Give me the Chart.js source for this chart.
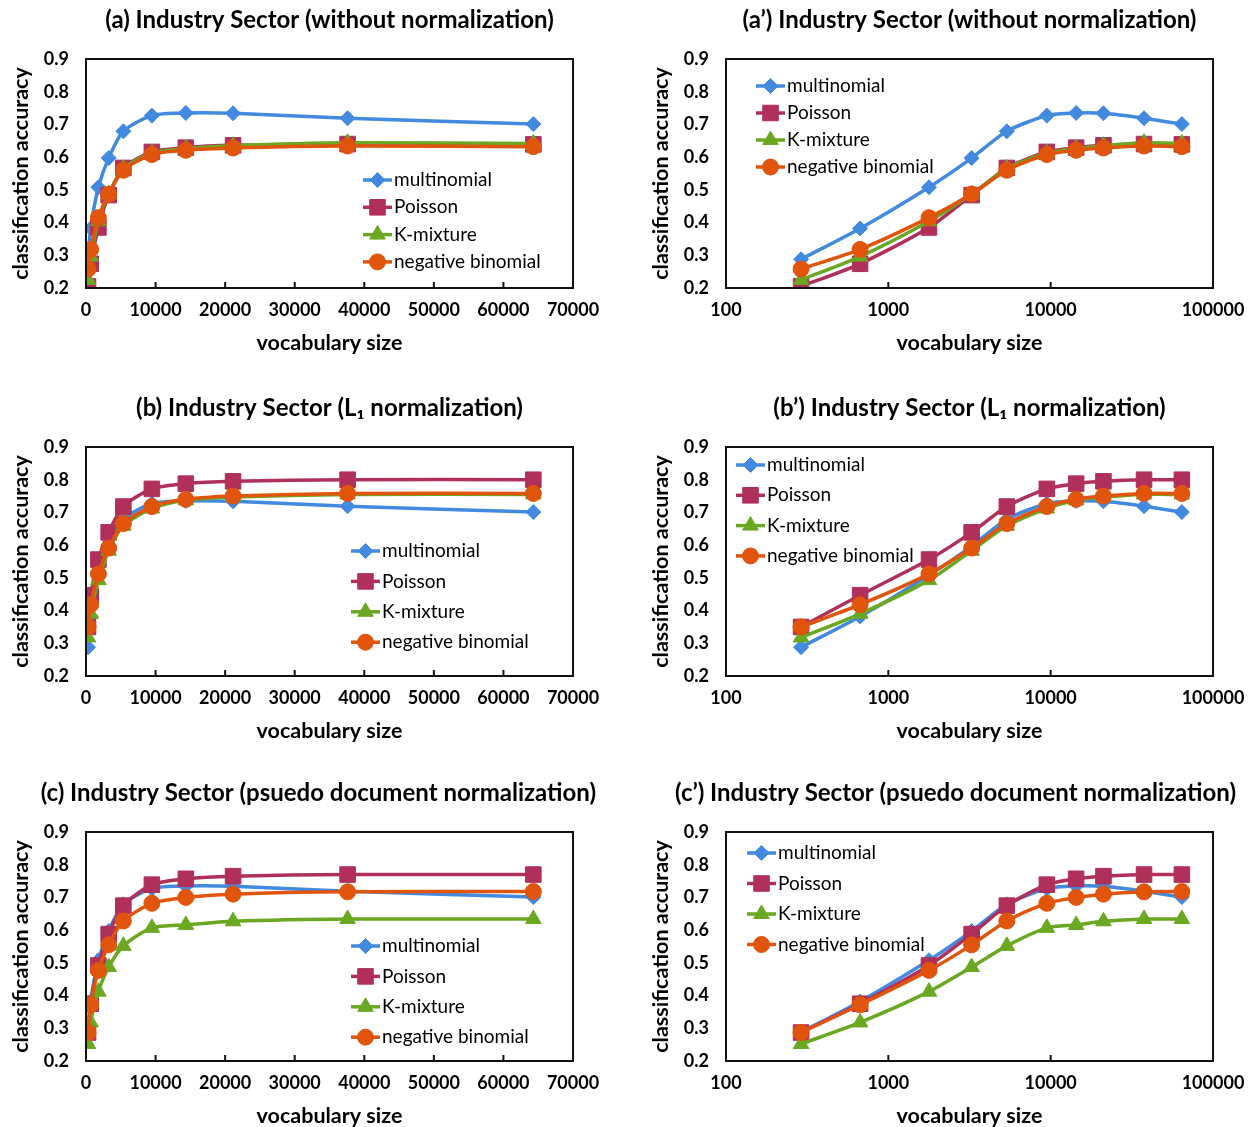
<!DOCTYPE html>
<html lang="en">
<head>
<meta charset="UTF-8">
<title>Industry Sector classification accuracy</title>
<script src="https://cdn.jsdelivr.net/npm/chart.js"></script>
<style>
  html, body { margin: 0; padding: 0; background: #fff; }
  #page { position: relative; width: 1256px; height: 1127px; overflow: hidden; }
  .panel { position: absolute; width: 616px; height: 387px; }
</style>
</head>
<body>
<div id="page">
  <div class="panel" style="left:0;top:0"><canvas id="chartA" width="616" height="387"></canvas></div>
  <div class="panel" style="left:640px;top:0"><canvas id="chartA2" width="616" height="387"></canvas></div>
  <div class="panel" style="left:0;top:388px"><canvas id="chartB" width="616" height="387"></canvas></div>
  <div class="panel" style="left:640px;top:388px"><canvas id="chartB2" width="616" height="387"></canvas></div>
  <div class="panel" style="left:0;top:773px"><canvas id="chartC" width="616" height="387"></canvas></div>
  <div class="panel" style="left:640px;top:773px"><canvas id="chartC2" width="616" height="387"></canvas></div>
</div>
<script>
// vocabulary sizes (x) shared by every panel
const vocabSizes = [290, 670, 1780, 3260, 5370, 9470, 14350, 21140, 37600, 64300];

const seriesNames = ['multinomial', 'Poisson', 'K-mixture', 'negative binomial'];

// multinomial is unaffected by the normalization, same curve in all panels
const multinomial = [0.288, 0.382, 0.508, 0.597, 0.679, 0.727, 0.735, 0.734, 0.719, 0.701];

// without normalization
const poissonRaw = [0.205, 0.274, 0.385, 0.484, 0.567, 0.616, 0.629, 0.636, 0.640, 0.639];
const kmixRaw    = [0.225, 0.296, 0.404, 0.487, 0.565, 0.612, 0.626, 0.635, 0.644, 0.642];
const negbinRaw  = [0.258, 0.318, 0.415, 0.487, 0.560, 0.608, 0.621, 0.628, 0.634, 0.632];

// L1 normalization
const poissonL1 = [0.350, 0.447, 0.556, 0.639, 0.718, 0.772, 0.788, 0.795, 0.800, 0.800];
const kmixL1    = [0.318, 0.390, 0.493, 0.583, 0.659, 0.712, 0.737, 0.747, 0.755, 0.755];
const negbinL1  = [0.350, 0.418, 0.512, 0.591, 0.666, 0.718, 0.740, 0.750, 0.758, 0.758];

// pseudo document normalization
const poissonPseudo = [0.287, 0.375, 0.492, 0.588, 0.675, 0.739, 0.757, 0.765, 0.770, 0.770];
const kmixPseudo    = [0.252, 0.318, 0.412, 0.487, 0.552, 0.607, 0.616, 0.627, 0.634, 0.634];
const negbinPseudo  = [0.287, 0.372, 0.477, 0.555, 0.628, 0.682, 0.700, 0.710, 0.717, 0.718];

const yTicks = [0.2, 0.3, 0.4, 0.5, 0.6, 0.7, 0.8, 0.9];
const linearTicks = [0, 10000, 20000, 30000, 40000, 50000, 60000, 70000];
const logTicks = [100, 1000, 10000, 100000];

const FONT = 'Lato, "Open Sans", sans-serif';
Chart.defaults.color = '#000';
Chart.defaults.font.family = FONT;

const seriesStyle = [
  { color: '#4289E0', pointStyle: 'rectRot', radius: 7.5 },
  { color: '#B0305A', pointStyle: 'rect', radius: 11 },
  { color: '#69A820', pointStyle: 'triangle', radius: 9 },
  { color: '#E0540B', pointStyle: 'circle', radius: 8 }
];

// black box around the plot area plus short inward ticks on the x axis
const plotFrame = {
  id: 'plotFrame',
  afterDraw(chart) {
    const { ctx, chartArea: a } = chart;
    const xs = chart.scales.x;
    ctx.save();
    ctx.strokeStyle = '#111';
    ctx.lineWidth = 2;
    ctx.strokeRect(a.left, a.top, a.right - a.left, a.bottom - a.top);
    ctx.beginPath();
    xs.ticks.forEach(t => {
      const px = xs.getPixelForValue(t.value);
      ctx.moveTo(px, a.bottom);
      ctx.lineTo(px, a.bottom - 6);
    });
    ctx.stroke();
    ctx.restore();
  }
};

// center the title over the plot, but let long titles spill past it
// (shifted left so they stay inside the canvas) instead of squeezing them
const wideTitle = {
  id: 'wideTitle',
  afterLayout(chart) {
    const tb = chart.titleBlock;
    if (!tb) return;
    const a = chart.chartArea;
    const ctx = chart.ctx;
    ctx.save();
    ctx.font = Chart.helpers.toFont(chart.options.plugins.title.font).string;
    const w = ctx.measureText(chart.options.plugins.title.text).width;
    ctx.restore();
    let c = (a.left + a.right) / 2;
    c = Math.min(c, chart.width - 20 - w / 2);
    tb.left = c - w / 2 - 20;
    tb.right = c + w / 2 + 20;
  }
};

// legend drawn inside the plot area
const insideLegend = {
  id: 'insideLegend',
  afterDraw(chart, args, opts) {
    const { ctx, chartArea: a } = chart;
    ctx.save();
    ctx.font = '19px ' + FONT;
    ctx.textBaseline = 'middle';
    chart.data.datasets.forEach((ds, i) => {
      const x = a.left + opts.x;
      const y = a.top + opts.y + i * opts.gap;
      ctx.strokeStyle = ds.borderColor;
      ctx.lineWidth = 3.5;
      ctx.beginPath();
      ctx.moveTo(x, y);
      ctx.lineTo(x + 29, y);
      ctx.stroke();
      ctx.fillStyle = ds.borderColor;
      ctx.lineWidth = 1;
      Chart.helpers.drawPoint(ctx, {
        pointStyle: ds.pointStyle, radius: ds.pointRadius, rotation: 0, borderWidth: 1
      }, x + 14.5, y);
      ctx.fillStyle = '#000';
      ctx.fillText(ds.label, x + 31, y);
    });
    ctx.restore();
  }
};

function makeChart(id, title, series, logX, legendPos) {
  const datasets = series.map((vals, i) => ({
    label: seriesNames[i],
    data: vals.map((v, k) => ({ x: vocabSizes[k], y: v })),
    borderColor: seriesStyle[i].color,
    backgroundColor: seriesStyle[i].color,
    borderWidth: 3.5,
    pointStyle: seriesStyle[i].pointStyle,
    pointRadius: seriesStyle[i].radius,
    pointBorderWidth: 1,
    tension: 0.25,
    order: series.length - i
  }));

  const xScale = logX ? {
    type: 'logarithmic',
    min: 100,
    max: 100000,
    afterBuildTicks: s => { s.ticks = logTicks.map(v => ({ value: v })); }
  } : {
    type: 'linear',
    min: 0,
    max: 70000,
    afterBuildTicks: s => { s.ticks = linearTicks.map(v => ({ value: v })); }
  };

  return new Chart(document.getElementById(id), {
    type: 'line',
    data: { datasets },
    options: {
      responsive: false,
      animation: false,
      layout: { padding: { left: 0, right: 43, top: 0, bottom: 0 } },
      scales: {
        x: Object.assign(xScale, {
          grid: { display: false, drawTicks: false },
          border: { display: false },
          ticks: {
            font: { size: 18, weight: 'bold' },
            padding: 11,
            maxRotation: 0,
            autoSkip: false,
            callback: v => String(v)
          },
          title: {
            display: true,
            text: 'vocabulary size',
            font: { size: 21.5, weight: 'bold' },
            padding: { top: 0, bottom: 31 }
          },
          afterFit: s => { s.height = 99; }
        }),
        y: {
          min: 0.2,
          max: 0.9,
          afterBuildTicks: s => { s.ticks = yTicks.map(v => ({ value: v })); },
          grid: { display: false, drawTicks: false },
          border: { display: false },
          ticks: {
            font: { size: 18, weight: 'bold' },
            padding: 17,
            callback: v => v.toFixed(1)
          },
          title: {
            display: true,
            text: 'classification accuracy',
            font: { size: 21.5, weight: 'bold' },
            padding: { top: 8, bottom: 0 }
          },
          afterFit: s => { s.width = 86; }
        }
      },
      plugins: {
        legend: { display: false },
        tooltip: { enabled: false },
        title: {
          display: true,
          text: title,
          fullSize: false,
          font: { size: 24, weight: 'bold' },
          padding: { top: 5.6, bottom: 24.6 }
        },
        insideLegend: legendPos
      }
    },
    plugins: [wideTitle, plotFrame, insideLegend]
  });
}

makeChart('chartA', '(a) Industry Sector (without normalization)',
  [multinomial, poissonRaw, kmixRaw, negbinRaw], false, { x: 277, y: 121, gap: 27.3 });
makeChart('chartA2', '(a\u2019) Industry Sector (without normalization)',
  [multinomial, poissonRaw, kmixRaw, negbinRaw], true, { x: 30, y: 27, gap: 27 });
makeChart('chartB', '(b) Industry Sector (L\u2081 normalization)',
  [multinomial, poissonL1, kmixL1, negbinL1], false, { x: 265, y: 104, gap: 30.4 });
makeChart('chartB2', '(b\u2019) Industry Sector (L\u2081 normalization)',
  [multinomial, poissonL1, kmixL1, negbinL1], true, { x: 10, y: 18, gap: 30.3 });
makeChart('chartC', '(c) Industry Sector (psuedo document normalization)',
  [multinomial, poissonPseudo, kmixPseudo, negbinPseudo], false, { x: 265, y: 114, gap: 30.4 });
makeChart('chartC2', '(c\u2019) Industry Sector (psuedo document normalization)',
  [multinomial, poissonPseudo, kmixPseudo, negbinPseudo], true, { x: 21, y: 21, gap: 30.5 });
</script>
</body>
</html>
